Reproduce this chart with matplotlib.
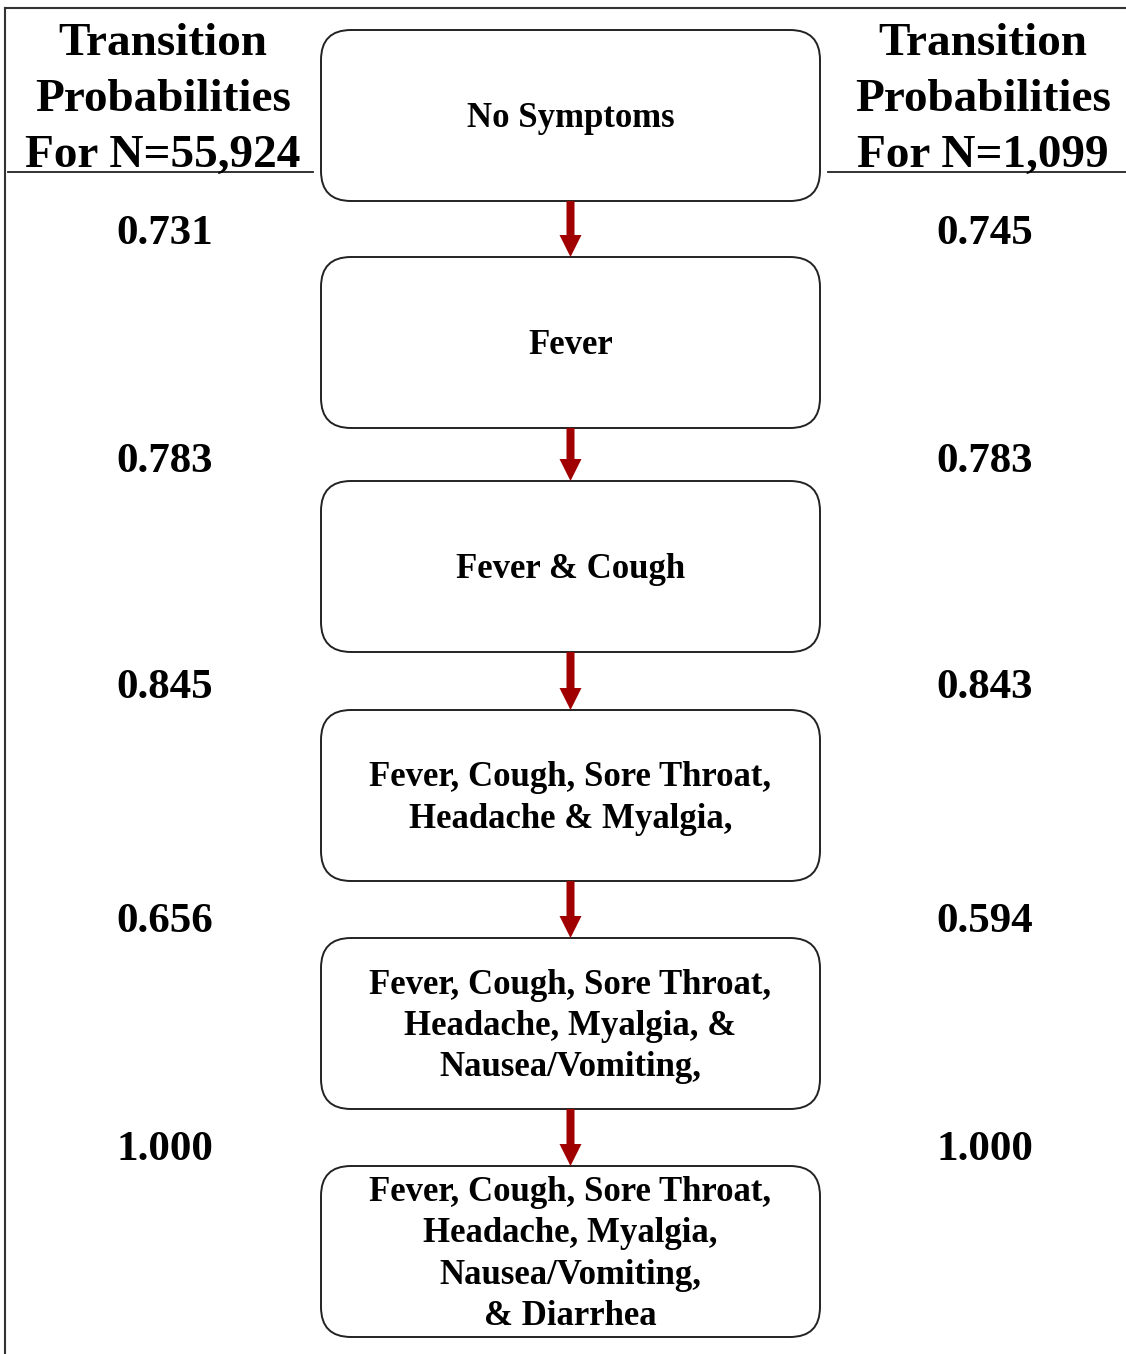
import matplotlib.pyplot as plt
from matplotlib.patches import FancyBboxPatch, FancyArrow

# 状态标签（每行一项）
states = [
    ["No Symptoms"],
    ["Fever"],
    ["Fever & Cough"],
    ["Fever, Cough, Sore Throat,", "Headache & Myalgia,"],
    ["Fever, Cough, Sore Throat,", "Headache, Myalgia, &", "Nausea/Vomiting,"],
    ["Fever, Cough, Sore Throat,", "Headache, Myalgia,", "Nausea/Vomiting,", "& Diarrhea"],
]
probs_left = ["0.731", "0.783", "0.845", "0.656", "1.000"]
probs_right = ["0.745", "0.783", "0.843", "0.594", "1.000"]
header_left = ["Transition", "Probabilities", "For N=55,924"]
header_right = ["Transition", "Probabilities", "For N=1,099"]

W, H = 1126, 1354
fig = plt.figure(figsize=(W / 100, H / 100), dpi=100)
ax = fig.add_axes([0, 0, 1, 1])
ax.set_xlim(0, W)
ax.set_ylim(H, 0)
ax.axis("off")

font = dict(family="Liberation Serif", weight="bold", color="black")

# 外框线
ax.plot([5, W], [8, 8], color="#333333", lw=1.5)
ax.plot([5, 5], [8, H], color="#333333", lw=1.5)

# 表头
for i, (l, r) in enumerate(zip(header_left, header_right)):
    y = 44 + i * 56
    ax.text(163, y, l, ha="center", va="center", fontsize=34, **font)
    ax.text(983, y, r, ha="center", va="center", fontsize=34, **font)
ax.plot([8, 313], [172, 172], color="#222222", lw=1.3)
ax.plot([828, W], [172, 172], color="#222222", lw=1.3)

# 方框
box_top = [30, 257, 481, 710, 938, 1166]
box_h = 171
x0, x1 = 321, 820
cx = (x0 + x1) / 2
r = 30
for top, lines in zip(box_top, states):
    p = FancyBboxPatch((x0 + r, top + r), (x1 - x0) - 2 * r, box_h - 2 * r,
                       boxstyle=f"round,pad={r}", fc="white", ec="#222222", lw=1.4)
    ax.add_patch(p)
    cy = top + box_h / 2 + 3
    n = len(lines)
    for j, s in enumerate(lines):
        y = cy + (j - (n - 1) / 2) * 41.5
        ax.text(cx, y, s, ha="center", va="center", fontsize=25, **font)

# 箭头和概率
prob_y = [231, 458, 685, 919, 1147]
for i in range(5):
    y_start = box_top[i] + box_h
    y_end = box_top[i + 1]
    ax.add_patch(FancyArrow(cx, y_start, 0, y_end - y_start, width=8,
                            head_width=22, head_length=22,
                            length_includes_head=True, color="#A00000", lw=0))
    ym = prob_y[i] + 3.5
    ax.text(165, ym, probs_left[i], ha="center", va="center", fontsize=31, **font)
    ax.text(985, ym, probs_right[i], ha="center", va="center", fontsize=31, **font)

fig.savefig("out.png", dpi=100, facecolor="white")
